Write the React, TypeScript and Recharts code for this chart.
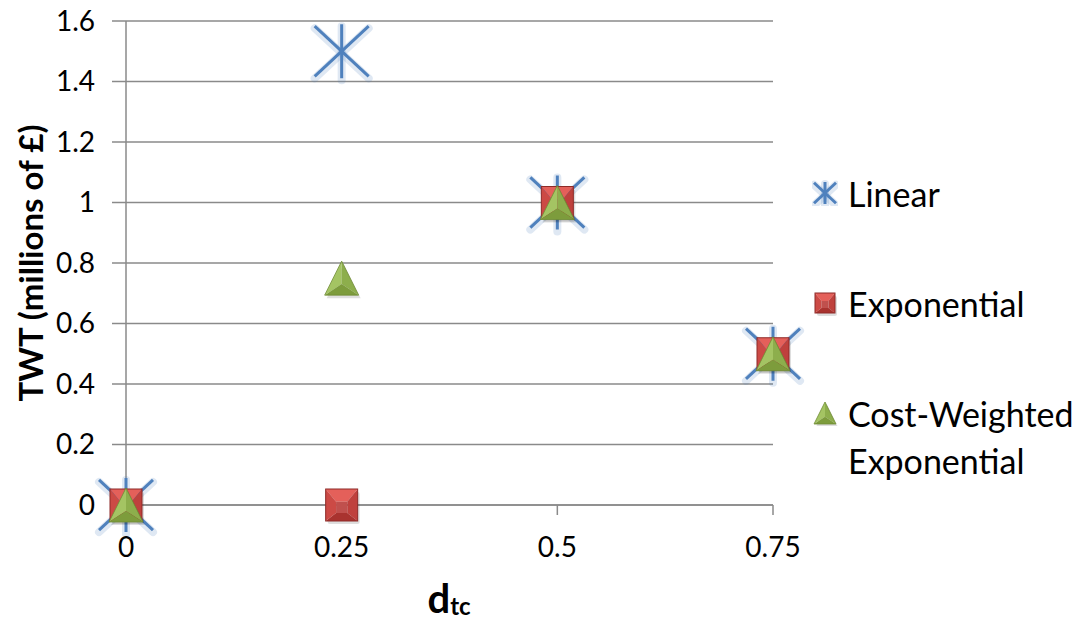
import React from 'react';
import { ScatterChart, Scatter, XAxis, YAxis, CartesianGrid, Legend } from 'recharts';

const xValues = [0, 0.25, 0.5, 0.75];
const linearValues = [0, 1.5, 1, 0.5];
const exponentialValues = [0, 0, 1, 0.5];
const costWeightedValues = [0, 0.75, 1, 0.5];
const xTicks = [0, 0.25, 0.5, 0.75];
const yTicks = [0, 0.2, 0.4, 0.6, 0.8, 1, 1.2, 1.4, 1.6];
const seriesNames = ['Linear', 'Exponential', 'Cost-Weighted Exponential'];

const toPoints = (ys: number[]) => xValues.map((x, i) => ({ x, y: ys[i] }));
const linearData = toPoints(linearValues);
const exponentialData = toPoints(exponentialValues);
const costWeightedData = toPoints(costWeightedValues);

const BLUE = '#4F81BD';
const FONT = 'Lato, Calibri, sans-serif';

const AsteriskMark = ({ cx, cy, r = 27 }: any) => {
  const h = r;
  const dx = r;
  const dy = r * 0.93;
  return (
    <g>
      <g stroke={BLUE} strokeOpacity={0.18} strokeWidth={8} strokeLinecap="round">
        <line x1={cx} y1={cy - h + 2} x2={cx} y2={cy + h + 2} />
        <line x1={cx - dx} y1={cy - dy + 2} x2={cx + dx} y2={cy + dy + 2} />
        <line x1={cx - dx} y1={cy + dy + 2} x2={cx + dx} y2={cy - dy + 2} />
      </g>
      <g stroke={BLUE} strokeWidth={3}>
        <line x1={cx} y1={cy - h} x2={cx} y2={cy + h} />
        <line x1={cx - dx} y1={cy - dy} x2={cx + dx} y2={cy + dy} />
        <line x1={cx - dx} y1={cy + dy} x2={cx + dx} y2={cy - dy} />
      </g>
    </g>
  );
};

const SquareMark = ({ cx, cy, s = 16 }: any) => {
  const i = s * 0.35;
  const ic = cy + s * 0.15;
  const TL = `${cx - s},${cy - s}`;
  const TR = `${cx + s},${cy - s}`;
  const BR = `${cx + s},${cy + s}`;
  const BL = `${cx - s},${cy + s}`;
  const iTL = `${cx - i},${ic - i}`;
  const iTR = `${cx + i},${ic - i}`;
  const iBR = `${cx + i},${ic + i}`;
  const iBL = `${cx - i},${ic + i}`;
  return (
    <g>
      <rect x={cx - s + 2} y={cy - s + 3} width={2 * s} height={2 * s} fill="#000" opacity={0.13} rx={2} />
      <polygon points={`${TL} ${TR} ${iTR} ${iTL}`} fill="#E4605A" />
      <polygon points={`${TR} ${BR} ${iBR} ${iTR}`} fill="#BF413D" />
      <polygon points={`${BR} ${BL} ${iBL} ${iBR}`} fill="#A9332F" />
      <polygon points={`${BL} ${TL} ${iTL} ${iBL}`} fill="#CC4A45" />
      <polygon points={`${iTL} ${iTR} ${iBR} ${iBL}`} fill="#C0504D" />
      <rect x={cx - s} y={cy - s} width={2 * s} height={2 * s} fill="none" stroke="#8E2B28" strokeWidth={1} />
    </g>
  );
};

const TriangleMark = ({ cx, cy, s = 17 }: any) => {
  const A = `${cx},${cy - s}`;
  const L = `${cx - s},${cy + s}`;
  const R = `${cx + s},${cy + s}`;
  const G = `${cx},${cy + s * 0.35}`;
  return (
    <g>
      <polygon points={`${cx + 2},${cy - s + 3} ${cx - s + 2},${cy + s + 3} ${cx + s + 2},${cy + s + 3}`} fill="#000" opacity={0.13} />
      <polygon points={`${A} ${L} ${G}`} fill="#A4C463" />
      <polygon points={`${A} ${R} ${G}`} fill="#8DAE4C" />
      <polygon points={`${L} ${R} ${G}`} fill="#7D9C3C" />
      <polygon points={`${A} ${L} ${R}`} fill="none" stroke="#6F8C33" strokeWidth={0.8} />
    </g>
  );
};

const legendIcon = (name: string) => {
  if (name === seriesNames[0]) return <AsteriskMark cx={13} cy={13} r={11} />;
  if (name === seriesNames[1]) return <SquareMark cx={13} cy={13} s={10} />;
  return <TriangleMark cx={13} cy={13} s={11} />;
};

const rowCenters = [28, 138, 248];

const LegendContent = (props: any) => {
  const payload = [...(props.payload || [])].sort(
    (a: any, b: any) => seriesNames.indexOf(String(a.value)) - seriesNames.indexOf(String(b.value))
  );
  return (
    <div style={{ position: 'relative', width: 269, height: 330, fontFamily: FONT, fontSize: 34, color: '#000' }}>
      {payload.map((entry: any, idx: number) => {
        const name = String(entry.value);
        const words = name === seriesNames[2] ? ['Cost-Weighted', 'Exponential'] : [name];
        return (
          <div key={name} style={{ position: 'absolute', left: 0, top: rowCenters[idx] - 23.5, width: 269 }}>
            <svg width={26} height={26} style={{ position: 'absolute', left: 0, top: 10.5 }}>
              {legendIcon(name)}
            </svg>
            <div style={{ position: 'absolute', left: 36, top: 0, lineHeight: '47px', whiteSpace: 'nowrap' }}>
              {words.map((w) => (
                <div key={w}>{w}</div>
              ))}
            </div>
          </div>
        );
      })}
    </div>
  );
};

const YLabel = () => (
  <text
    x={30}
    y={263}
    transform="rotate(-90 30 263)"
    textAnchor="middle"
    dominantBaseline="central"
    fontFamily={FONT}
    fontWeight={700}
    fontSize={33}
    fill="#000"
  >
    TWT (millions of £)
  </text>
);

const XLabel = () => (
  <text x={449} y={613} textAnchor="middle" fontFamily={FONT} fontWeight={700} fill="#000">
    <tspan fontSize={40}>d</tspan>
    <tspan fontSize={24} dy={2}>tc</tspan>
  </text>
);

const tickStyle = { fontFamily: FONT, fontSize: 28, fill: '#000' };

export default function App() {
  return (
    <div style={{ position: 'absolute', left: 0, top: 0, width: 1081, height: 621, background: '#fff' }}>
      <ScatterChart width={1081} height={621} margin={{ top: 21, right: 308, bottom: 56, left: 26 }}>
        <CartesianGrid vertical={false} horizontal stroke="#8a8a8a" strokeWidth={1.5} horizontalValues={yTicks} />
        <XAxis
          type="number"
          dataKey="x"
          domain={[0, 0.75]}
          ticks={xTicks}
          interval={0}
          height={60}
          tick={tickStyle}
          tickSize={10}
          tickMargin={22}
          stroke="#8a8a8a"
          strokeWidth={1.5}
          label={<XLabel />}
        />
        <YAxis
          type="number"
          dataKey="y"
          domain={[0, 1.6]}
          ticks={yTicks}
          interval={0}
          width={100}
          tick={tickStyle}
          tickSize={14}
          tickMargin={17}
          stroke="#8a8a8a"
          strokeWidth={1.5}
          label={<YLabel />}
        />
        <Legend
          layout="horizontal"
          verticalAlign="middle"
          align="right"
          wrapperStyle={{ left: 812, top: 165, width: 0, height: 0, overflow: 'visible' }}
          content={<LegendContent />}
        />
        <Scatter name={seriesNames[0]} data={linearData} fill={BLUE} isAnimationActive={false} shape={(p: any) => <AsteriskMark cx={p.cx} cy={p.cy} />} />
        <Scatter name={seriesNames[1]} data={exponentialData} fill="#C0504D" isAnimationActive={false} shape={(p: any) => <SquareMark cx={p.cx} cy={p.cy} />} />
        <Scatter name={seriesNames[2]} data={costWeightedData} fill="#9BBB59" isAnimationActive={false} shape={(p: any) => <TriangleMark cx={p.cx} cy={p.cy} />} />
      </ScatterChart>
    </div>
  );
}
